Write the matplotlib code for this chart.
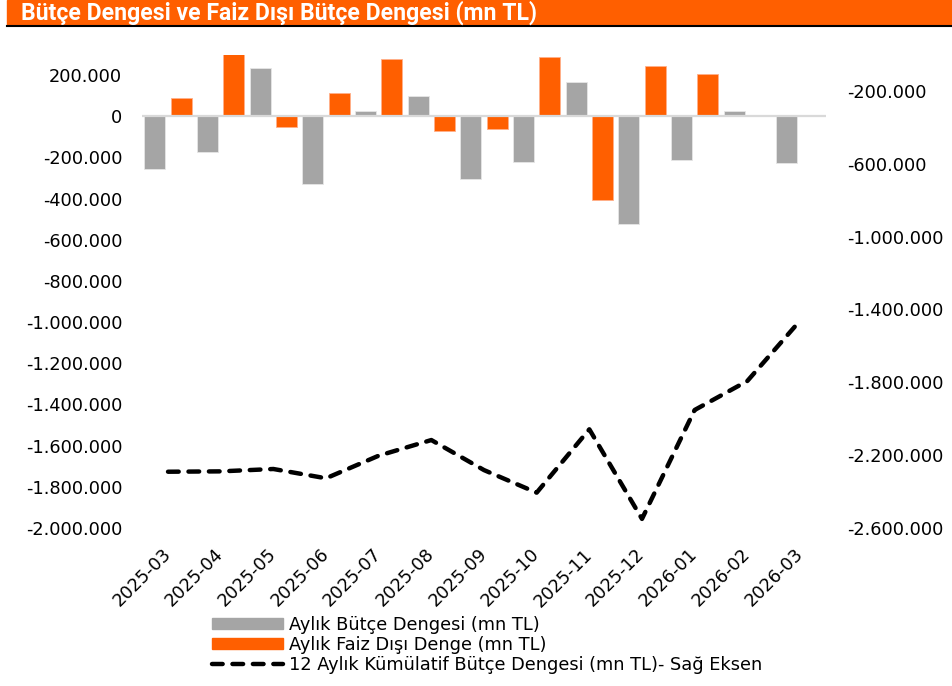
import matplotlib.pyplot as plt
import matplotlib.patches as mpatches
from matplotlib.lines import Line2D
import numpy as np

months = ['2025-03', '2025-04', '2025-05', '2025-06', '2025-07', '2025-08', '2025-09',
          '2025-10', '2025-11', '2025-12', '2026-01', '2026-02', '2026-03']
# mn TL
butce = [-257000, -172000, 233000, -327000, 24000, 97000, -306000,
         -220000, 168000, -523000, -211000, 26000, -227000]
faiz_disi = [87000, 303000, -53000, 112000, 277000, -71000, -63000,
             288000, -407000, 243000, 207000, 3000, 0]
kumulatif = [-2291000, -2289000, -2276000, -2327000, -2203000, -2117000, -2282000,
             -2406000, -2058000, -2550000, -1952000, -1793000, -1462000]

left_ticks = np.arange(-2000000, 200001, 200000)
right_ticks = np.arange(-2600000, -199999, 400000)

GRAY = '#A5A5A5'
ORANGE = '#FF5F00'

def tr(v):
    s = f'{abs(int(v)):,}'.replace(',', '.')
    return '-' + s if v < 0 else s

plt.rcParams['font.family'] = 'DejaVu Sans'
fs = 12.8

fig = plt.figure(figsize=(9.52, 6.86), dpi=100)

# title band
fig.patches.append(mpatches.Rectangle((7 / 952, 1 - 25 / 686), 945 / 952, 25 / 686,
                                      transform=fig.transFigure, color=ORANGE, zorder=0))
fig.add_artist(Line2D([7 / 952, 1], [1 - 26 / 686] * 2, transform=fig.transFigure,
                      color='black', lw=1.5))
fig.text(21 / 952, 1 - 13 / 686, 'Bütçe Dengesi ve Faiz Dışı Bütçe Dengesi (mn TL)',
         color='white', fontsize=16.6, fontweight='bold', family='Roboto', va='center', ha='left')

ax = fig.add_axes([141.7 / 952, 1 - 528 / 686, 684.6 / 952, 473.5 / 686])
x = np.arange(len(months))
ax.bar(x - 0.25, butce, width=0.4, color=GRAY, edgecolor='#E6E6E6', linewidth=0.6, zorder=2)
ax.bar(x + 0.25, faiz_disi, width=0.4, color=ORANGE, edgecolor='#FFB08A', linewidth=0.6, zorder=2)
ax.axhline(0, color='#D9D9D9', lw=1.6, zorder=3)
ax.set_xlim(-0.5, len(months) - 0.5)
ax.set_ylim(-2000000, 300000)
ax.set_yticks(left_ticks)
ax.set_yticklabels([tr(v) for v in left_ticks], fontsize=fs)
ax.set_xticks(x)
ax.set_xticklabels(months, rotation=45, ha='right', va='center', rotation_mode='anchor', fontsize=fs)
ax.tick_params(axis='both', length=0)
ax.tick_params(axis='y', pad=14)
ax.tick_params(axis='x', pad=17)
for s in ax.spines.values():
    s.set_visible(False)

ax2 = ax.twinx()
ax2.plot(x, kumulatif, color='black', lw=3.2, dashes=(2.4, 2.2), dash_capstyle='round', zorder=4)
ax2.set_ylim(-2600000, 0)
ax2.set_yticks(right_ticks)
ax2.set_yticklabels([tr(v) for v in right_ticks], fontsize=fs)
ax2.tick_params(axis='y', length=0, pad=15)
for s in ax2.spines.values():
    s.set_visible(False)

handles = [mpatches.Patch(color=GRAY),
           mpatches.Patch(color=ORANGE),
           Line2D([0], [0], color='black', lw=3.2, dashes=(2.4, 2.2), dash_capstyle='round')]
labels = ['Aylık Bütçe Dengesi (mn TL)', 'Aylık Faiz Dışı Denge (mn TL)',
          '12 Aylık Kümülatif Bütçe Dengesi (mn TL)- Sağ Eksen']
fig.legend(handles, labels, loc='upper left', bbox_to_anchor=(212 / 952, 1 - 616 / 686),
           frameon=False, fontsize=fs, handlelength=4.0, handleheight=0.55,
           handletextpad=0.35, labelspacing=0.1, borderpad=0, borderaxespad=0)

fig.savefig('out.png', dpi=100)
